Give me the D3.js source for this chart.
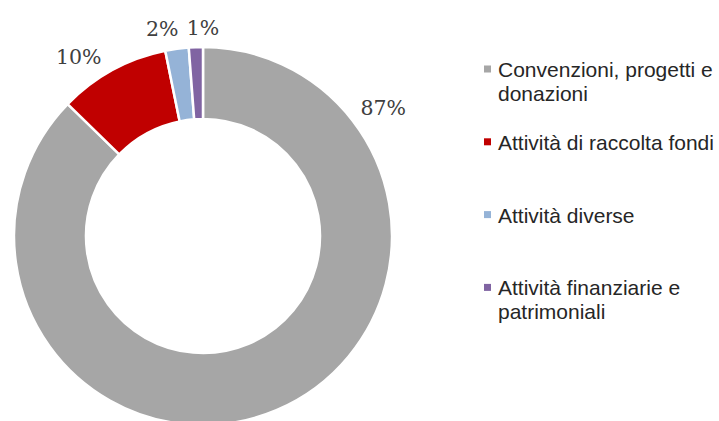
<!doctype html>
<html lang="it">
<head>
	<meta charset="UTF-8">
	<title>Proventi per tipologia</title>
	<style>
		body {
			margin: 0;
			background: #fff;
		}

		.slice {
			stroke: #fff;
			stroke-width: 2.5px;
		}

		.slice__label {
			font-family: 'DejaVu Serif', serif;
			font-size: 20.5px;
			fill: #404040;
			text-anchor: middle;
		}

		.legend__text {
			font-family: 'Liberation Sans', Arial, sans-serif;
			font-size: 21px;
			fill: #262626;
		}
	</style>
</head>
<body>
	<script src="https://cdn.jsdelivr.net/npm/d3@7"></script>
	<script>
		// data
		var categories = [
				'Convenzioni, progetti e donazioni',
				'Attività di raccolta fondi',
				'Attività diverse',
				'Attività finanziarie e patrimoniali'
			],
			values = [87.3, 9.5, 2.0, 1.2],
			colors = ['#a6a6a6', '#c00000', '#95b3d7', '#8064a2'];

		var w = 719,
			h = 421,
			cx = 203,
			cy = 236,
			outerR = 189,
			innerR = 117;

		var svg = d3.select('body')
			.append('svg')
			.attr('width', w)
			.attr('height', h);

		var pie = d3.pie()
			.sort(null)
			.value(function(d) { return d; });

		var arc = d3.arc()
			.innerRadius(innerR)
			.outerRadius(outerR);

		var arcs = pie(values);

		var total = d3.sum(values);

		var chart = svg.append('g')
			.attr('transform', 'translate(' + cx + ',' + cy + ')');

		chart.selectAll('path')
			.data(arcs)
			.enter()
			.append('path')
			.attr('class', 'slice')
			.attr('d', arc)
			.attr('fill', function(d, i) { return colors[i]; });

		/**
		* label placement, Excel moved these by hand
		* t is a fraction along the slice, r the distance from centre
		*/
		var labelPlace = [
			{ t: 0.174, r: 221 },
			{ t: 0.32, r: 218 },
			{ t: 0.05, r: 211 },
			{ t: 1.00, r: 208 }
		];

		var labelAngle = function(d, i) {
			return d.startAngle + (d.endAngle - d.startAngle) * labelPlace[i].t;
		};

		chart.selectAll('.slice__label')
			.data(arcs)
			.enter()
			.append('text')
			.attr('class', 'slice__label')
			.attr('x', function(d, i) {
				return Math.sin(labelAngle(d, i)) * labelPlace[i].r;
			})
			.attr('y', function(d, i) {
				return -Math.cos(labelAngle(d, i)) * labelPlace[i].r;
			})
			.attr('dy', '0.35em')
			.text(function(d) {
				return Math.round(d.value / total * 100) + '%';
			});

		// legend
		var legendX = 484,
			legendY = 77,
			legendStep = 72.8,
			lineH = 23.5,
			maxW = 226;

		var legend = svg.selectAll('.legend')
			.data(categories)
			.enter()
			.append('g')
			.attr('class', 'legend')
			.attr('transform', function(d, i) {
				return 'translate(' + legendX + ',' + (legendY + i * legendStep) + ')';
			});

		legend.append('rect')
			.attr('x', 0)
			.attr('y', -11.5)
			.attr('width', 7)
			.attr('height', 7)
			.attr('fill', function(d, i) { return colors[i]; });

		legend.append('text')
			.attr('class', 'legend__text')
			.each(function(d) {
				var text = d3.select(this),
					words = d.split(' '),
					line = [],
					lineNo = 0,
					tspan = text.append('tspan').attr('x', 14).attr('y', 0);

				words.forEach(function(word) {
					line.push(word);
					tspan.text(line.join(' '));
					if (tspan.node().getComputedTextLength() > maxW && line.length > 1) {
						line.pop();
						tspan.text(line.join(' '));
						line = [word];
						lineNo++;
						tspan = text.append('tspan')
							.attr('x', 14)
							.attr('y', lineNo * lineH)
							.text(word);
					}
				});
			});
	</script>
</body>
</html>
